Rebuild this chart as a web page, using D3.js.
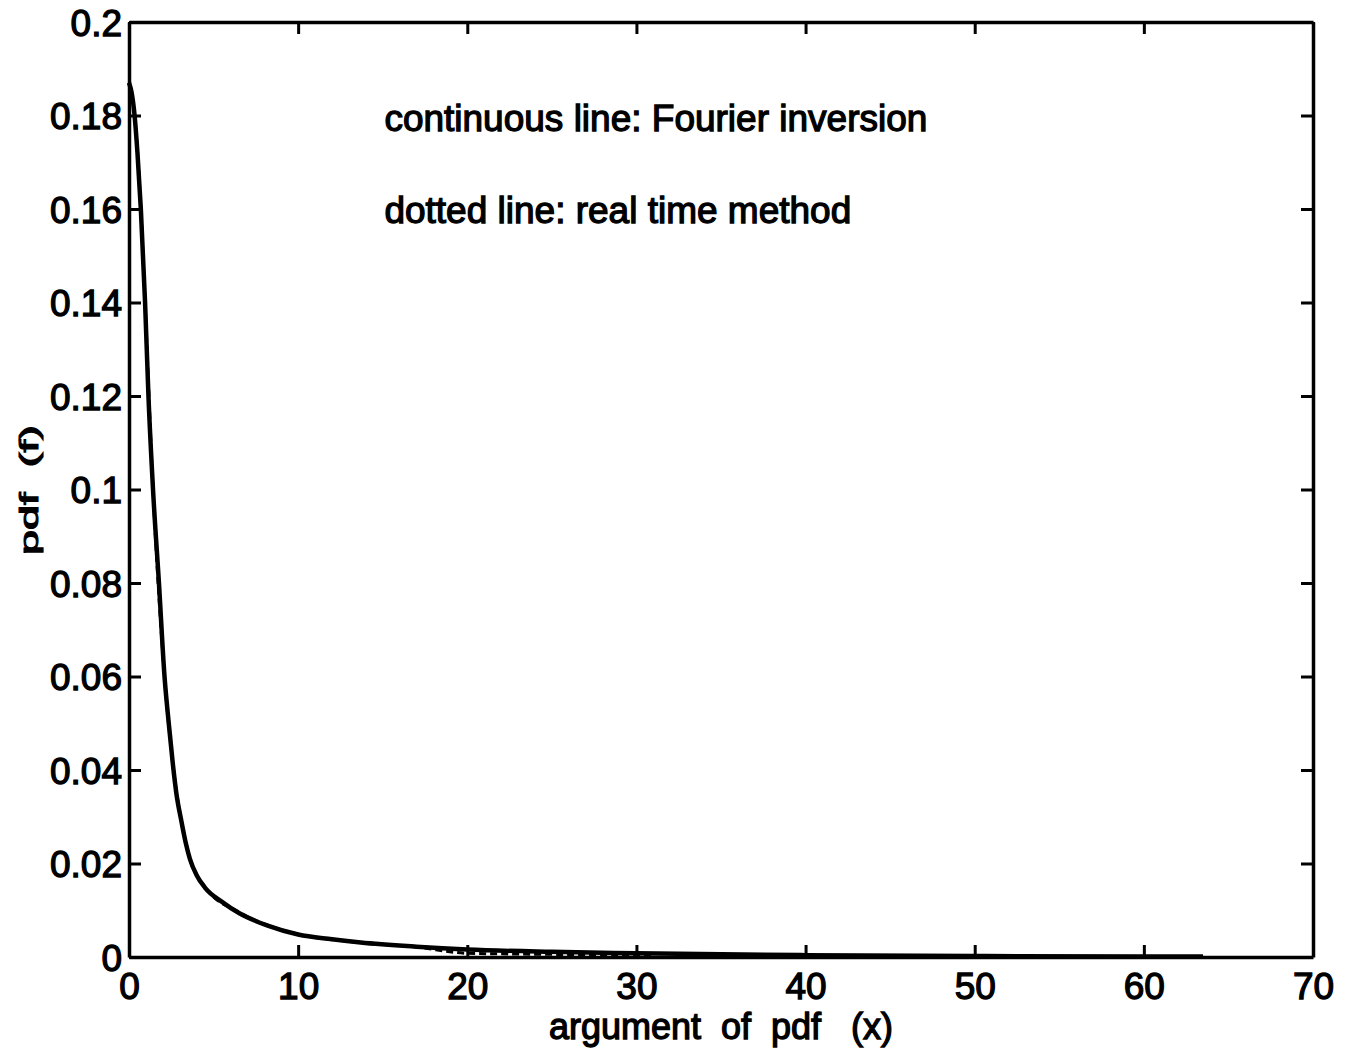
<!DOCTYPE html>
<html>
<head>
<meta charset="utf-8">
<script src="https://cdn.jsdelivr.net/npm/d3@7"></script>
<style>
  body { margin: 0; background: #fff; }
  svg { display: block; }
  text { font-family: "Liberation Sans", Arial, Helvetica, sans-serif; fill: #000; }
</style>
</head>
<body>
<div id="chart"></div>
<script>
// continuous line: Fourier inversion
var fourierX = [0, 0.15, 0.33, 0.5, 0.7, 0.95, 1.15, 1.42, 1.77, 2.1, 2.35, 2.6, 2.8, 3.1, 3.35, 3.6, 4.0, 4.5, 5.5, 6.5, 8.2, 10, 12, 13.7, 17, 20, 25, 30, 40, 50, 60, 63.5];
var fourierY = [0.187, 0.185, 0.18, 0.172, 0.16, 0.14, 0.12, 0.1, 0.08, 0.06, 0.05, 0.041, 0.035, 0.029, 0.0245, 0.021, 0.0175, 0.0148, 0.0118, 0.0094, 0.0067, 0.0048, 0.0038, 0.0031, 0.0022, 0.0016, 0.0011, 0.0008, 0.0004, 0.0002, 0.0001, 0.0001];

// dotted line: real time method
var realX = [0, 0.33, 0.7, 0.95, 1.42, 2.1, 2.6, 3.1, 3.6, 4.5, 6.5, 8.2, 10, 13.7, 17, 20, 24, 28, 31];
var realY = [0.187, 0.18, 0.16, 0.14, 0.1, 0.06, 0.041, 0.029, 0.021, 0.015, 0.0096, 0.0068, 0.0049, 0.0031, 0.0021, 0.0008, 0.0006, 0.0005, 0.0004];

var xTicks = [0, 10, 20, 30, 40, 50, 60, 70];
var xTickLabels = ["0", "10", "20", "30", "40", "50", "60", "70"];
var yTicks = [0, 0.02, 0.04, 0.06, 0.08, 0.1, 0.12, 0.14, 0.16, 0.18, 0.2];
var yTickLabels = ["0", "0.02", "0.04", "0.06", "0.08", "0.1", "0.12", "0.14", "0.16", "0.18", "0.2"];

// set the dimensions and margins of the graph
var margin = {top: 22, right: 38, bottom: 94, left: 129},
    width = 1351 - margin.left - margin.right,
    height = 1051 - margin.top - margin.bottom;

var svg = d3.select("#chart")
  .append("svg")
    .attr("width", 1351)
    .attr("height", 1051)
  .append("g")
    .attr("transform", "translate(" + margin.left + "," + margin.top + ")");

var x = d3.scaleLinear().domain([0, 70]).range([0, width]);
var y = d3.scaleLinear().domain([0, 0.2]).range([height, 0]);

var fourier = fourierX.map(function(d, i) { return {x: d, y: fourierY[i]}; });
var real = realX.map(function(d, i) { return {x: d, y: realY[i]}; });

var line = d3.line()
  .x(function(d) { return x(d.x); })
  .y(function(d) { return y(d.y); })
  .curve(d3.curveMonotoneX);

// the curves
svg.append("path")
  .datum(fourier)
  .attr("fill", "none")
  .attr("stroke", "#000")
  .attr("stroke-width", 4.5)
  .attr("d", line);

svg.append("path")
  .datum(real)
  .attr("fill", "none")
  .attr("stroke", "#000")
  .attr("stroke-width", 3)
  .attr("stroke-dasharray", "7,4")
  .attr("d", line);

// axes, ticks point inward on all four sides
function styleAxis(g) {
  g.select(".domain").attr("stroke", "#000").attr("stroke-width", 3.5);
  g.selectAll(".tick line").attr("stroke", "#000").attr("stroke-width", 3);
}

svg.append("g")
  .attr("transform", "translate(0," + height + ")")
  .call(d3.axisBottom(x).tickValues(xTicks).tickSize(-12).tickSizeOuter(0)
    .tickFormat(function(d, i) { return xTickLabels[i]; }))
  .call(styleAxis)
  .call(function(g) {
    g.selectAll(".tick text")
      .attr("y", 42).attr("dy", null)
      .style("font-size", "37px")
      .attr("stroke", "#000").attr("stroke-width", 1.3);
  });

svg.append("g")
  .call(d3.axisTop(x).tickValues(xTicks).tickSize(-12).tickSizeOuter(0).tickFormat(""))
  .call(styleAxis);

svg.append("g")
  .call(d3.axisLeft(y).tickValues(yTicks).tickSize(-12).tickSizeOuter(0)
    .tickFormat(function(d, i) { return yTickLabels[i]; }))
  .call(styleAxis)
  .call(function(g) {
    g.selectAll(".tick text")
      .attr("x", -7).attr("dy", "0.36em")
      .style("font-size", "37px")
      .attr("stroke", "#000").attr("stroke-width", 1.3);
  });

svg.append("g")
  .attr("transform", "translate(" + width + ",0)")
  .call(d3.axisRight(y).tickValues(yTicks).tickSize(-12).tickSizeOuter(0).tickFormat(""))
  .call(styleAxis);

// annotations
svg.append("text")
  .attr("x", x(15.1))
  .attr("y", y(0.18) + 15)
  .style("font-size", "37px")
  .attr("stroke", "#000").attr("stroke-width", 1.3)
  .text("continuous line: Fourier inversion");

svg.append("text")
  .attr("x", x(15.1))
  .attr("y", y(0.16) + 14)
  .style("font-size", "37px")
  .attr("stroke", "#000").attr("stroke-width", 1.3)
  .text("dotted line: real time method");

// axis labels
svg.append("text")
  .attr("text-anchor", "middle")
  .attr("x", x(35))
  .attr("y", height + 82)
  .style("font-size", "36px")
  .style("white-space", "pre")
  .attr("stroke", "#000").attr("stroke-width", 1.3)
  .text("argument  of  pdf   (x)");

svg.append("text")
  .attr("text-anchor", "middle")
  .attr("transform", "translate(" + (38 - margin.left) + "," + (490 - margin.top) + ") rotate(-90)")
  .style("font-size", "25px")
  .style("white-space", "pre")
  .attr("textLength", 130)
  .attr("lengthAdjust", "spacingAndGlyphs")
  .attr("stroke", "#000").attr("stroke-width", 1)
  .text("pdf  (f)");
</script>
</body>
</html>
